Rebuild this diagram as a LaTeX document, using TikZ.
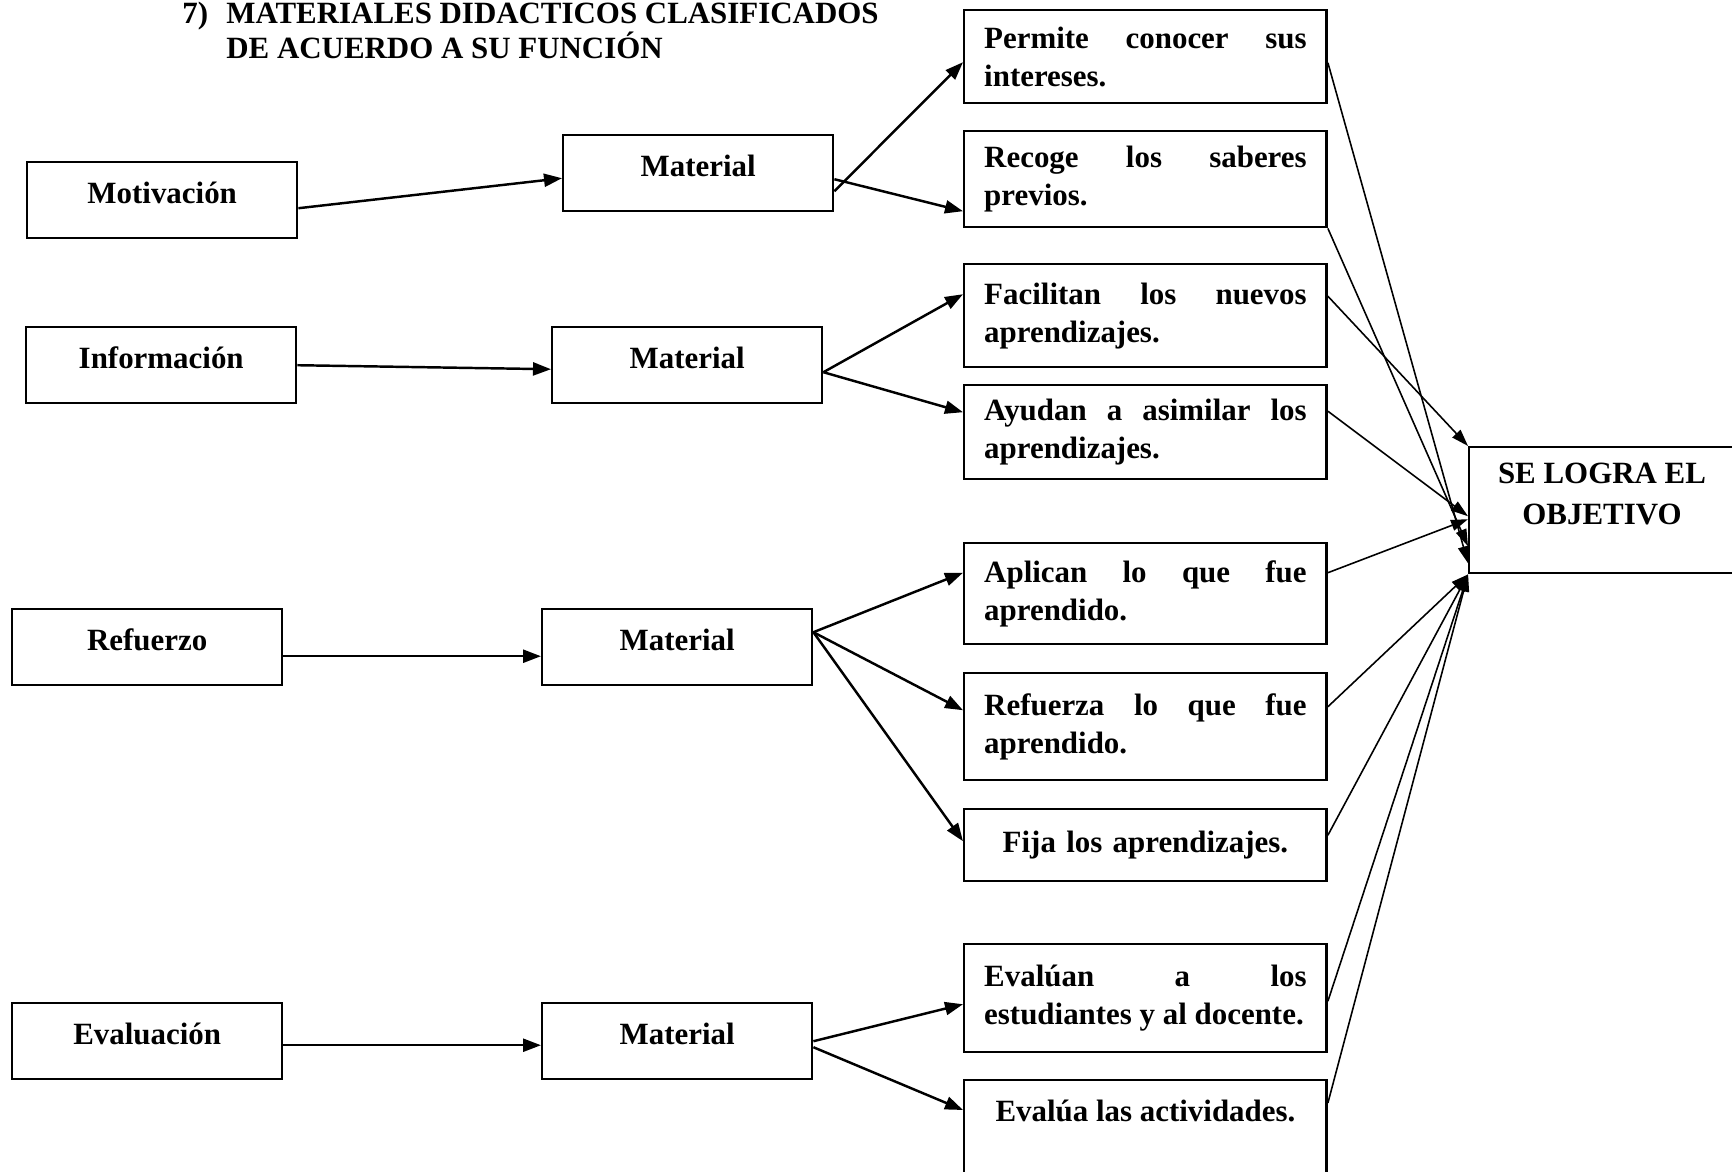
\documentclass[tikz,border=0pt]{standalone}
\usepackage{fontspec}
\setmainfont{Liberation Serif}
\usetikzlibrary{arrows.meta}
\hyphenpenalty=10000
\exhyphenpenalty=10000
\begin{document}
\begin{tikzpicture}[x=0.02cm,y=-0.02cm,
  font=\fontsize{17.6}{21.6}\selectfont\bfseries,
  lbox/.style={draw,line width=1.4pt,minimum width=5.4cm,inner sep=0pt,text height=0.82cm,text depth=0.70cm,anchor=north west},
  rbox/.style={draw,line width=1.4pt,text width=6.45cm,inner xsep=0.4cm,inner ysep=0pt,align=justify,anchor=north west},
  arr/.style={line width=1.4pt,-{Triangle[length=0.36cm,width=0.26cm]}},
  conv/.style={line width=0.9pt,-{Triangle[length=0.34cm,width=0.22cm]}}]
\useasboundingbox (0,0) rectangle (1732,1172);
\clip (0,0) rectangle (1732,1172);

% title
\node[anchor=base west,inner sep=0pt] (t1) at (182,23.5) {\makebox[0.88cm][l]{7)}MATERIALES DIDACTICOS CLASIFICADOS};
\node[anchor=base west,inner sep=0pt] (t2) at (226,59) {DE ACUERDO A SU FUNCIÓN};

% left column
\node[lbox] (mot) at (26,161) {Motivación};
\node[lbox] (inf) at (25,326) {Información};
\node[lbox] (ref) at (11,608) {Refuerzo};
\node[lbox] (eva) at (11,1002) {Evaluación};

% material column
\node[lbox] (mat1) at (562,134) {Material};
\node[lbox] (mat2) at (551,326) {Material};
\node[lbox] (mat3) at (541,608) {Material};
\node[lbox] (mat4) at (541,1002) {Material};

% right column
\node[rbox,minimum height=1.86cm] (per) at (963,9) {Permite conocer sus\linebreak intereses.};
\node[rbox,minimum height=1.92cm] (rec) at (963,130) {Recoge los saberes\linebreak previos.};
\node[rbox,minimum height=2.06cm] (fac) at (963,263) {Facilitan los nuevos\linebreak aprendizajes.};
\node[rbox,minimum height=1.88cm] (ayu) at (963,384) {Ayudan a asimilar los\linebreak aprendizajes.};
\node[rbox,minimum height=2.02cm] (apl) at (963,542) {Aplican lo que fue\linebreak aprendido.};
\node[rbox,minimum height=2.14cm] (rfz) at (963,672) {Refuerza lo que fue\linebreak aprendido.};
\node[rbox,minimum height=1.44cm,align=center] (fij) at (963,808) {Fija los aprendizajes.};
\node[rbox,minimum height=2.16cm] (evn) at (963,943) {Evalúan a los\linebreak estudiantes y al docente.};
\node[draw,line width=1.4pt,anchor=north west,minimum width=7.25cm,inner sep=0pt,text height=0.82cm,text depth=1.8cm] (evl) at (963,1079) {Evalúa las actividades.};

% objective
\node[draw,line width=1.4pt,anchor=north west,minimum width=5.36cm,minimum height=2.52cm,inner sep=0pt] (obj) at (1468,446) {};
\node[align=center,inner sep=0pt,font=\fontsize{17.6}{22.8}\selectfont\bfseries] (objt) at (1602,494) {SE LOGRA EL\\OBJETIVO};

% left -> material
\draw[arr] ([yshift=-0.16cm]mot.east) -- ([yshift=-0.1cm]mat1.west);
\draw[arr] (inf.east) -- ([yshift=-0.08cm]mat2.west);
\draw[arr] ([yshift=-0.18cm]ref.east) -- ([yshift=-0.18cm]mat3.west);
\draw[arr] ([yshift=-0.08cm]eva.east) -- ([yshift=-0.08cm]mat4.west);

% material -> functions
\draw[arr] ([yshift=-0.36cm]mat1.east) -- ([yshift=-0.11cm]per.west);
\draw[arr] ([yshift=-0.12cm]mat1.east) -- ([yshift=-0.64cm]rec.west);
\draw[arr] ([yshift=-0.14cm]mat2.east) -- ([yshift=0.43cm]fac.west);
\draw[arr] ([yshift=-0.14cm]mat2.east) -- ([yshift=0.4cm]ayu.west);
\draw[arr] ([yshift=0.3cm]mat3.east) -- ([yshift=0.42cm]apl.west);
\draw[arr] ([yshift=0.3cm]mat3.east) -- ([yshift=0.33cm]rfz.west);
\draw[arr] ([yshift=0.3cm]mat3.east) -- ([yshift=0.08cm]fij.west);
\draw[arr] (mat4.east) -- ([yshift=-0.12cm]evn.west);
\draw[arr] ([yshift=-0.12cm]mat4.east) -- ([yshift=-0.62cm]evl.north west);

% functions -> objective
\draw[conv] ([yshift=-0.12cm]per.east) -- ([yshift=-1.06cm]obj.west);
\draw[conv] (rec.south east) -- ([yshift=-0.72cm]obj.west);
\draw[conv] ([yshift=0.39cm]fac.east) -- (obj.north west);
\draw[conv] ([yshift=0.42cm]ayu.east) -- ([yshift=-0.12cm]obj.west);
\draw[conv] ([yshift=0.42cm]apl.east) -- ([yshift=-0.18cm]obj.west);
\draw[conv] ([yshift=0.4cm]rfz.east) -- (obj.south west);
\draw[conv] ([yshift=0.2cm]fij.east) -- (obj.south west);
\draw[conv] ([yshift=-0.06cm]evn.east) -- (obj.south west);
\draw[conv] ([yshift=-0.48cm]evl.north east) -- (obj.south west);
\end{tikzpicture}
\end{document}
